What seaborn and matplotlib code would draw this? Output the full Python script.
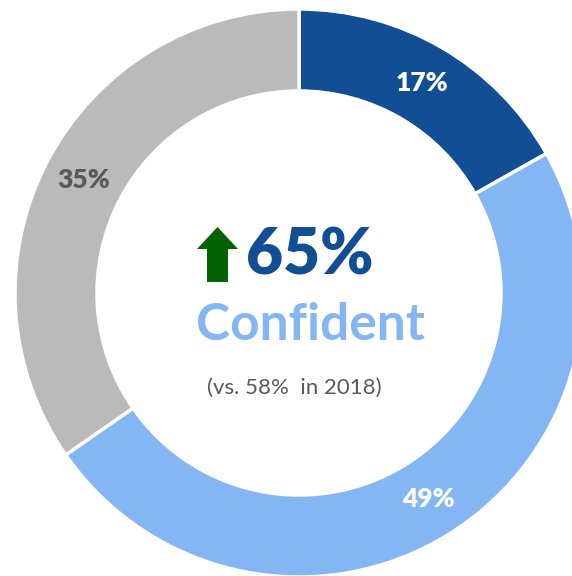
import matplotlib
matplotlib.use("Agg")
import matplotlib.pyplot as plt
import seaborn as sns
from matplotlib.patches import FancyArrow

# Share of respondents by confidence level
segments = ["Very confident", "Somewhat confident", "Not confident"]
shares = [17, 49, 35]
segment_colors = ["#114E93", "#84B6F4", "#BABABA"]
label_colors = ["white", "white", "#595959"]

headline_value = "65%"
headline_label = "Confident"
comparison_note = "(vs. 58%  in 2018)"

sns.set_theme(style="white")
plt.rcParams["font.family"] = ["Lato", "DejaVu Sans"]

W, H = 572, 576
fig = plt.figure(figsize=(W / 100, H / 100), dpi=100)
ax = fig.add_axes([0, 0, 1, 1])

cx, cy = 299, 283
outer_r = 284
ring_w = 82
total = sum(shares)

wedges, _, pct_texts = ax.pie(
    shares,
    colors=segment_colors,
    startangle=90,
    counterclock=False,
    center=(cx, cy),
    radius=outer_r,
    autopct=lambda p: f"{p * total / 100:.0f}%",
    pctdistance=(outer_r - ring_w / 2) / outer_r,
    wedgeprops=dict(width=ring_w, edgecolor="white", linewidth=2.5),
    normalize=True,
)
for t, c in zip(pct_texts, label_colors):
    t.set_color(c)
    t.set_fontsize(19)
    t.set_fontweight("heavy")

ax.set_xlim(0, W)
ax.set_ylim(0, H)
ax.set_aspect("equal")
ax.axis("off")

# Centre annotation: up arrow, headline figure, label and comparison
ax.add_patch(FancyArrow(217.5, 294, 0, 55, width=21, head_width=41,
                        head_length=22, length_includes_head=True,
                        color="#036303", linewidth=0))
ax.text(310, 320, headline_value, ha="center", va="center",
        fontsize=46, fontweight="heavy", color="#114E93")
ax.text(310, 251, headline_label, ha="center", va="center",
        fontsize=37, fontweight="bold", color="#84B6F4")
ax.text(294, 188, comparison_note, ha="center", va="center",
        fontsize=16, color="#595959")

fig.savefig("out.png", dpi=100)
